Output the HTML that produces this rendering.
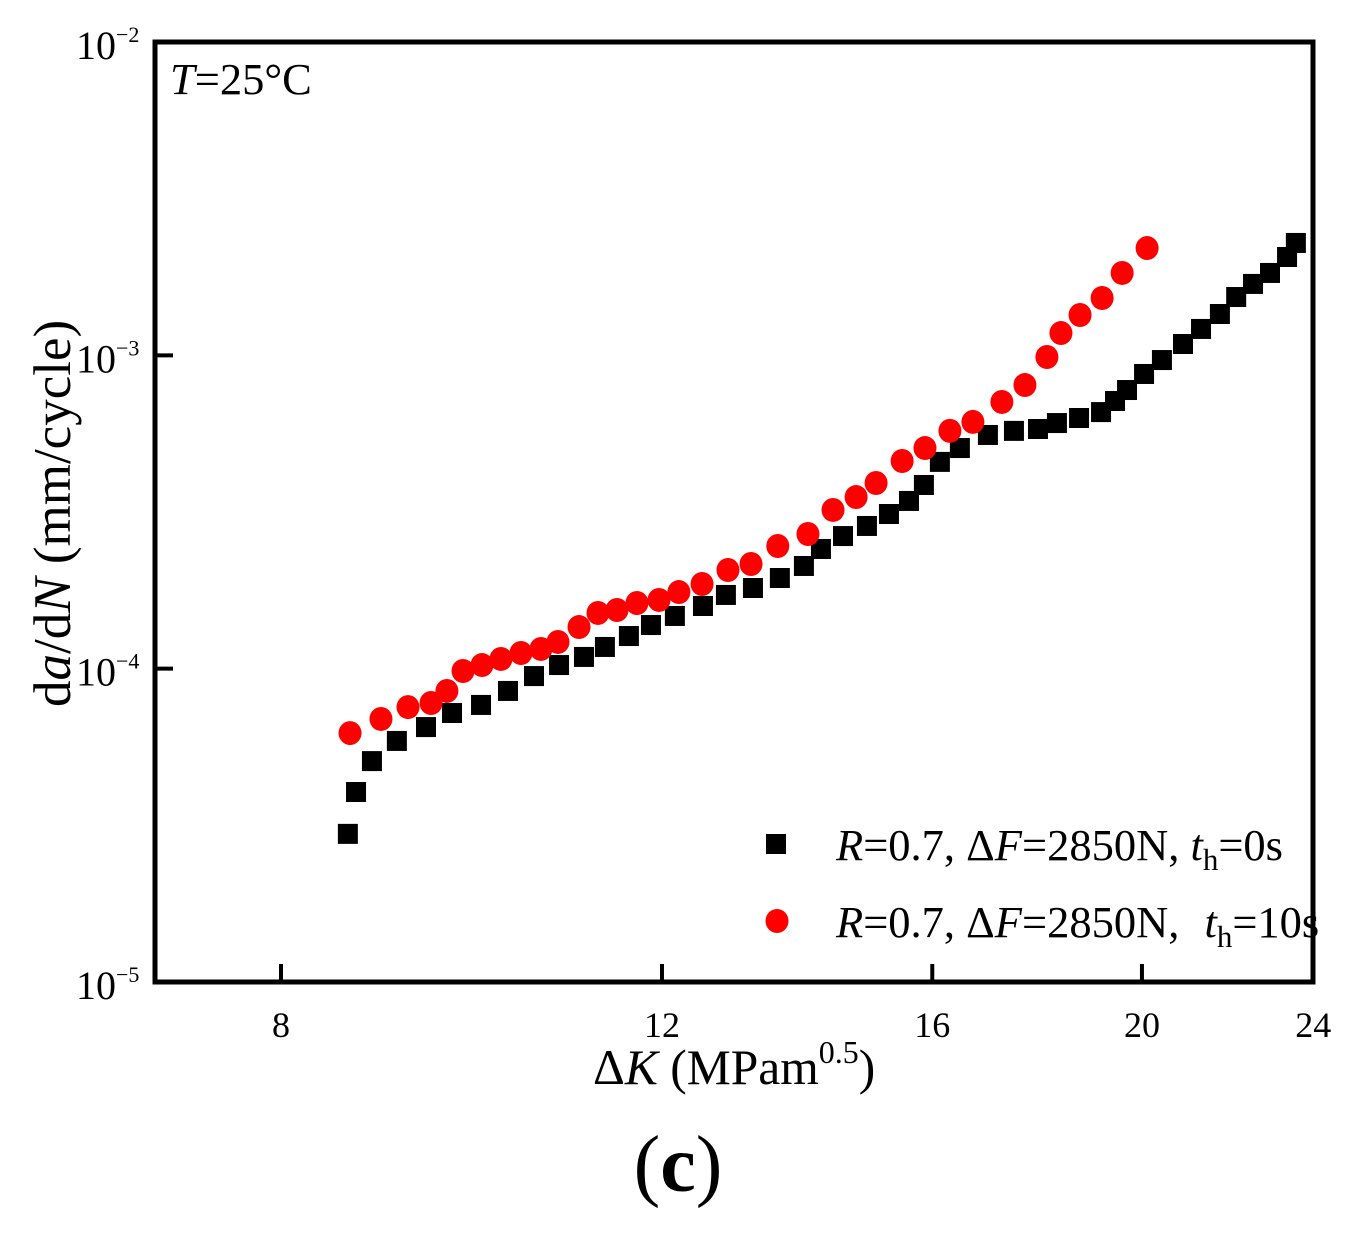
<!DOCTYPE html>
<html>
<head>
<meta charset="utf-8">
<title>da/dN vs delta K chart</title>
<style>
html,body{margin:0;padding:0;background:#fff;}
svg{display:block;font-family:"Liberation Serif",serif;fill:#000;}
text{fill:#000;}
.i{font-style:italic;}
</style>
</head>
<body>
<svg id="chart" xmlns="http://www.w3.org/2000/svg" width="1348" height="1234" viewBox="0 0 1348 1234">
  <g id="marks"></g>
  <rect x="155" y="42" width="1158" height="940" fill="none" stroke="#000" stroke-width="5"/>
  <g id="ticks"></g>
  <text x="170" y="94" font-size="44.5"><tspan class="i">T</tspan>=25°C</text>
  <text x="593" y="1084" font-size="49.5">Δ<tspan class="i">K</tspan> (MPam<tspan font-size="32" dy="-21">0.5</tspan><tspan dy="21">)</tspan></text>
  <text transform="translate(70,707) rotate(-90)" font-size="53">d<tspan class="i">a</tspan>/d<tspan class="i">N</tspan> (mm/cycle)</text>
  <g>
    <rect x="766" y="834" width="20" height="20" fill="#000"/>
    <text x="836" y="860" font-size="44.5"><tspan class="i">R</tspan>=0.7, Δ<tspan class="i">F</tspan>=2850N, <tspan class="i">t</tspan><tspan font-size="31" dy="10">h</tspan><tspan dy="-10">=0s</tspan></text>
    <ellipse cx="777" cy="921" rx="11.5" ry="12" fill="#f00"/>
    <text x="836" y="937" font-size="44.5"><tspan class="i">R</tspan>=0.7, Δ<tspan class="i">F</tspan>=2850N,  <tspan class="i" dx="14">t</tspan><tspan font-size="31" dy="10">h</tspan><tspan dy="-10">=10s</tspan></text>
  </g>
  <text x="678" y="1191" font-size="80" text-anchor="middle" font-family="'Liberation Serif',serif">(<tspan font-weight="bold">c</tspan>)</text>
</svg>
<script>
// Chart data
const xTickValues = [8, 12, 16, 20, 24];
const yTickExponents = [-2, -3, -4, -5];
const blackX = [8.59,8.665,8.813,9.05,9.335,9.597,9.898,10.186,10.472,10.755,11.044,11.293,11.585,11.86,12.166,12.535,12.845,13.22,13.604,13.957,14.212,14.55,14.925,15.279,15.608,15.858,16.13,16.477,16.976,17.453,17.905,18.27,18.705,19.148,19.435,19.685,20.045,20.43,20.893,21.298,21.73,22.11,22.51,22.92,23.34,23.56];
const blackY = [2.97e-5,4.04e-5,5.07e-5,5.88e-5,6.51e-5,7.22e-5,7.66e-5,8.49e-5,9.47e-5,1.027e-4,1.09e-4,1.173e-4,1.271e-4,1.378e-4,1.473e-4,1.585e-4,1.719e-4,1.809e-4,1.947e-4,2.127e-4,2.41e-4,2.65e-4,2.854e-4,3.116e-4,3.43e-4,3.857e-4,4.57e-4,5.06e-4,5.57e-4,5.74e-4,5.82e-4,6.08e-4,6.31e-4,6.59e-4,7.15e-4,7.75e-4,8.72e-4,9.66e-4,1.087e-3,1.214e-3,1.355e-3,1.535e-3,1.69e-3,1.832e-3,2.06e-3,2.284e-3];
const redX = [8.61,8.898,9.158,9.385,9.545,9.71,9.908,10.11,10.328,10.55,10.743,10.986,11.21,11.439,11.685,11.962,12.218,12.523,12.873,13.193,13.574,14.017,14.396,14.754,15.071,15.495,15.876,16.303,16.707,17.23,17.658,18.076,18.348,18.725,19.17,19.583,20.11];
const redY = [6.23e-5,6.91e-5,7.54e-5,7.77e-5,8.49e-5,9.83e-5,1.027e-4,1.074e-4,1.122e-4,1.156e-4,1.217e-4,1.358e-4,1.506e-4,1.539e-4,1.62e-4,1.657e-4,1.756e-4,1.863e-4,2.065e-4,2.158e-4,2.463e-4,2.69e-4,3.21e-4,3.53e-4,3.914e-4,4.6e-4,5.06e-4,5.74e-4,6.13e-4,7.1e-4,8.04e-4,9.88e-4,1.178e-3,1.345e-3,1.524e-3,1.832e-3,2.2e-3];

const NS = 'http://www.w3.org/2000/svg';
function xPos(v) { return 281 + 939.6 * Math.log(v / 8); }
function yPos(v) { return 982 - 313.33 * (Math.log10(v) + 5); }

const marks = document.getElementById('marks');
const ticks = document.getElementById('ticks');

function make(tag, attrs, parent) {
  const el = document.createElementNS(NS, tag);
  for (const k in attrs) el.setAttribute(k, attrs[k]);
  parent.appendChild(el);
  return el;
}

blackX.forEach(function (x, i) {
  const cx = xPos(x), cy = yPos(blackY[i]);
  const el = make('rect', { x: cx - 10, y: cy - 10, width: 20, height: 20, fill: '#000' }, marks);
  
  
});
redX.forEach(function (x, i) {
  const el = make('ellipse', { cx: xPos(x), cy: yPos(redY[i]), rx: 11.5, ry: 12, fill: '#f00' }, marks);
  
  
});

xTickValues.forEach(function (v) {
  const px = xPos(v);
  if (v < 24) {
    const t = make('line', { x1: px, x2: px, y1: 982, y2: 964, stroke: '#000', 'stroke-width': 4 }, ticks);
    
    
  }
  const l = make('text', { x: px, y: 1037, 'font-size': 36, 'text-anchor': 'middle' }, ticks);
  l.textContent = String(v);
  
  
});

yTickExponents.forEach(function (e) {
  const py = yPos(Math.pow(10, e));
  if (e !== -2 && e !== -5) {
    const t = make('line', { x1: 155, x2: 173, y1: py, y2: py, stroke: '#000', 'stroke-width': 4 }, ticks);
    
    
  }
  const l = make('text', { x: 76, y: py + 17, 'font-size': 40 }, ticks);
  
  
  l.appendChild(document.createTextNode('10'));
  const s = make('tspan', { 'font-size': 22, dy: -17 }, l);
  s.textContent = '\u2212' + Math.abs(e);
});
</script>
</body>
</html>
